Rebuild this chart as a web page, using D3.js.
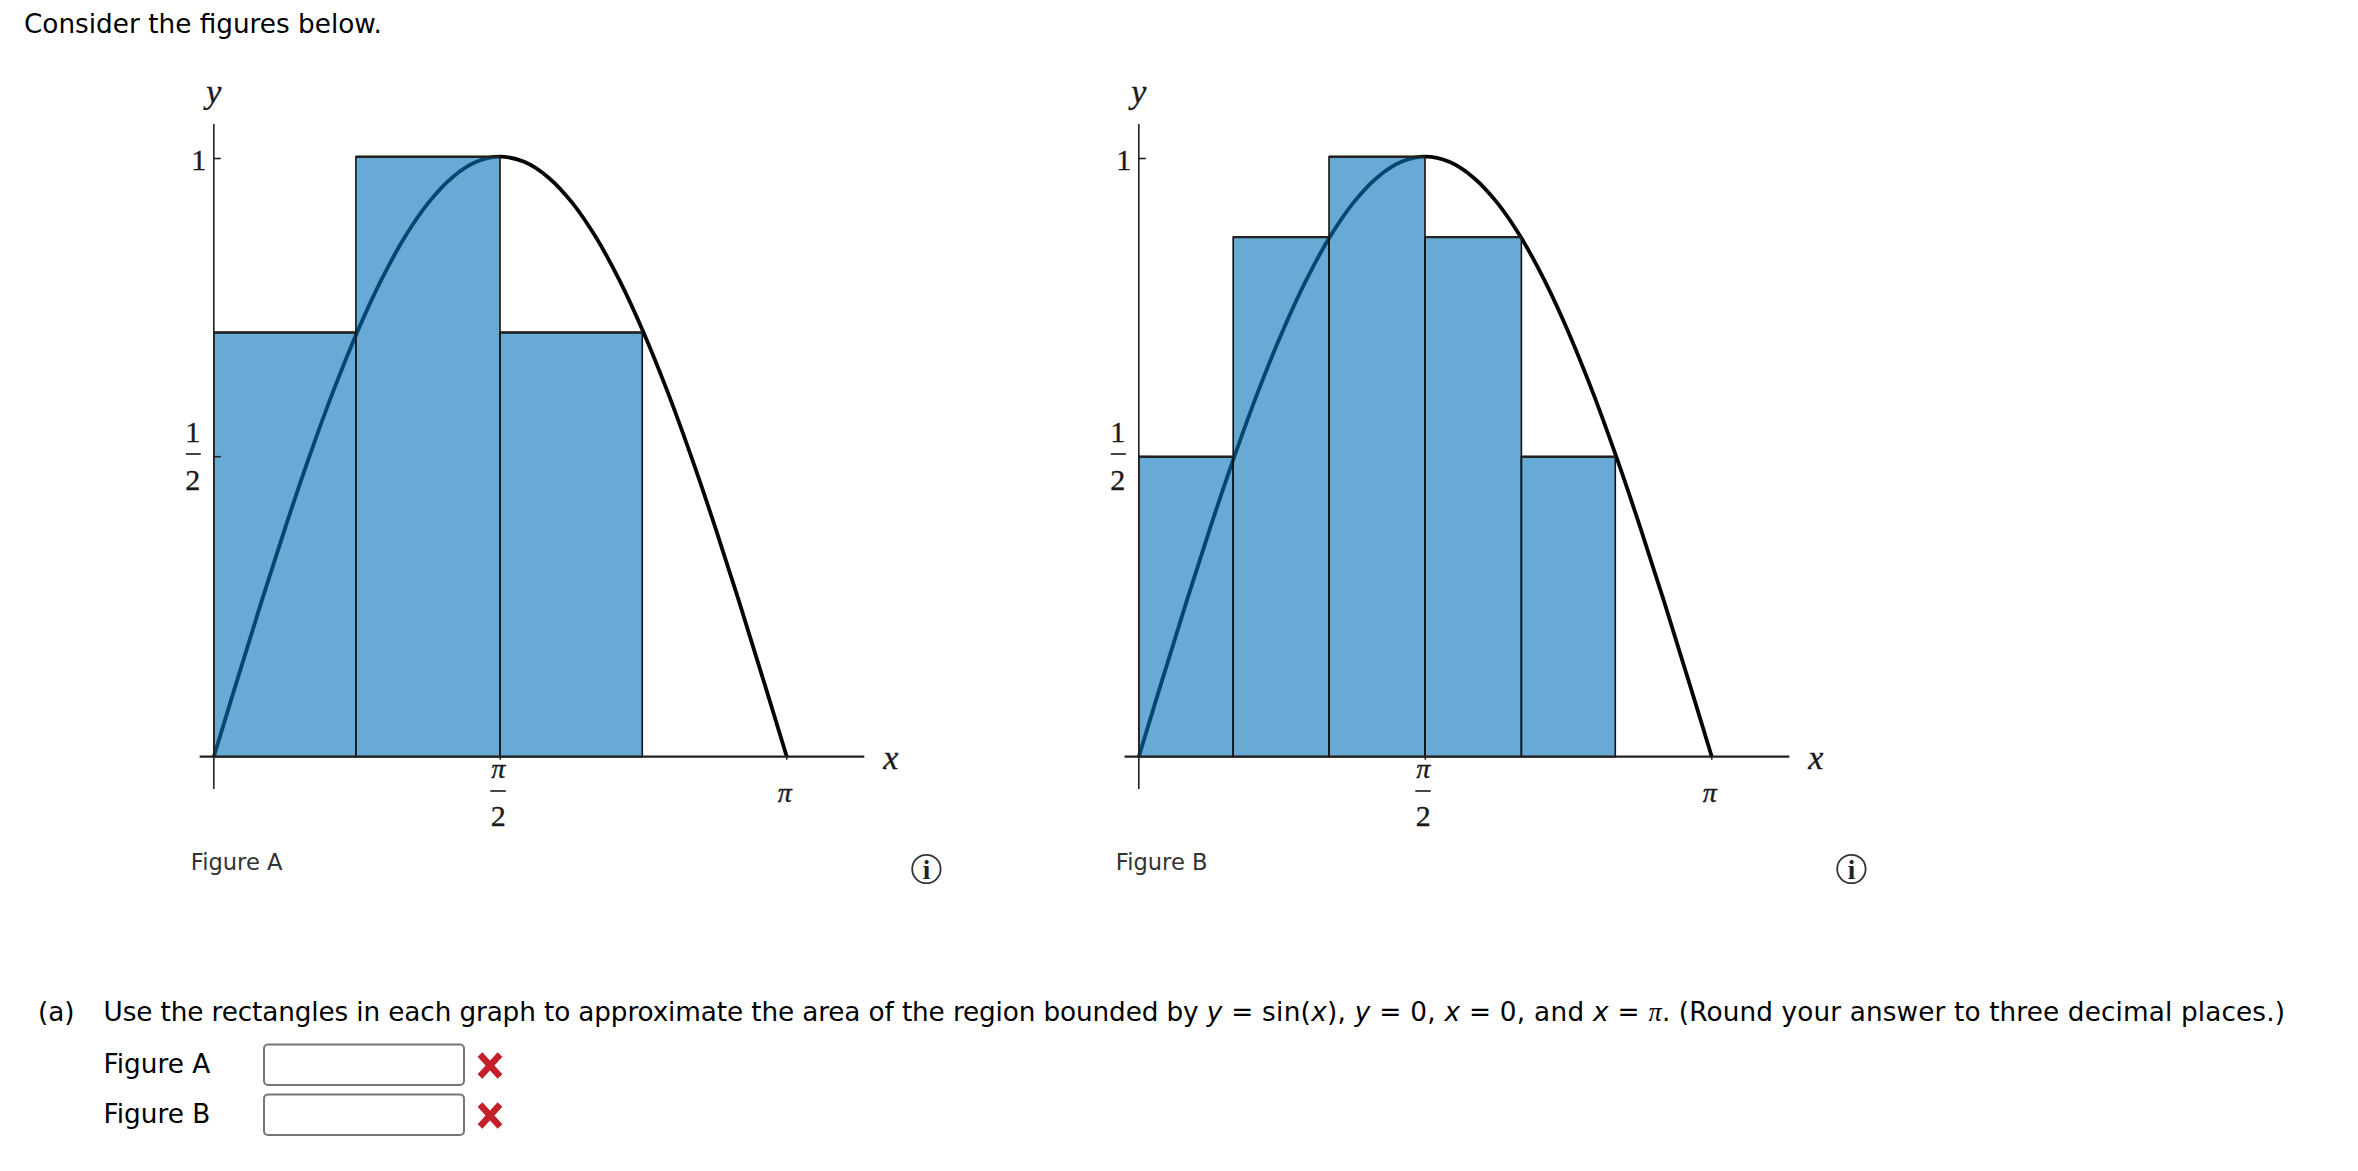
<!DOCTYPE html>
<html><head><meta charset="utf-8">
<script src="https://cdn.jsdelivr.net/npm/d3@7"></script>
<style>
html,body{margin:0;padding:0;background:#fff}
svg{display:block}
.ui{font-family:"DejaVu Sans",Verdana,sans-serif;fill:#000}
.math{font-family:"Liberation Serif",serif;fill:#1a1a1a}
</style></head><body>
<script>
// x positions are given as fractions of pi
const curveFractions=[0,0.0417,0.0833,0.125,0.1667,0.2083,0.25,0.2917,0.3333,0.375,0.4167,0.4583,0.5,0.5417,0.5833,0.625,0.6667,0.7083,0.75,0.7917,0.8333,0.875,0.9167,0.9583,1];
const curveValues=[0,0.1305,0.2588,0.3827,0.5,0.6088,0.7071,0.7934,0.866,0.9239,0.9659,0.9914,1,0.9914,0.9659,0.9239,0.866,0.7934,0.7071,0.6088,0.5,0.3827,0.2588,0.1305,0];
const figureAEdges=[0,0.248,0.4995,0.7478];
const figureAHeights=[0.707,1,0.707];
const figureBEdges=[0,0.1647,0.332,0.4995,0.6677,0.8316];
const figureBHeights=[0.5,0.866,1,0.866,0.5];
const yTickValues=[0.5,0.997];
const xTickValues=[0.5,1];
const figureNames=["Figure A","Figure B"];
const promptText="Consider the figures below.";

const W=2358,H=1171,FS=26.3;
const svg=d3.select("body").append("svg").attr("width",W).attr("height",H).attr("viewBox",`0 0 ${W} ${H}`);
svg.append("rect").attr("width",W).attr("height",H).attr("fill","#fff");
svg.append("text").attr("class","ui").attr("x",24).attr("y",33).attr("font-size",FS).text(promptText);

function fig(ox,name,edges,heights){
  const g=svg.append("g");
  const x=d3.scaleLinear().domain([-0.0248,1.1353]).range([ox-14.2,ox+650.5]);
  const y=d3.scaleLinear().domain([-0.0538,1.0545]).range([789,124]);
  const line=d3.line().x(d=>x(d[0])).y(d=>y(d[1])).curve(d3.curveCatmullRom.alpha(0.5));
  const pts=curveFractions.map((f,i)=>[f,curveValues[i]]);
  // curve below the translucent rectangles, so it darkens through them
  g.append("path").attr("d",line(pts)).attr("fill","none").attr("stroke","#050505").attr("stroke-width",3.8);
  const bars=heights.map((h,i)=>({x0:edges[i],x1:edges[i+1],h}));
  g.selectAll("rect.bar").data(bars).join("rect").attr("class","bar")
    .attr("x",d=>x(d.x0)).attr("width",d=>x(d.x1)-x(d.x0))
    .attr("y",d=>y(d.h)).attr("height",d=>y(0)-y(d.h))
    .attr("fill","rgb(0,113,185)").attr("fill-opacity",0.6)
    .attr("stroke","#111").attr("stroke-width",1.6);
  g.selectAll("line.top").data(bars).join("line").attr("class","top")
    .attr("x1",d=>x(d.x0)).attr("x2",d=>x(d.x1)).attr("y1",d=>y(d.h)).attr("y2",d=>y(d.h))
    .attr("stroke","#222").attr("stroke-width",2.4);

  const ax=d3.axisBottom(x).tickValues(xTickValues).tickFormat("").tickSizeOuter(0).tickSizeInner(3).offset(0);
  const ay=d3.axisLeft(y).tickValues(yTickValues).tickFormat("").tickSizeOuter(0).tickSizeInner(-7).offset(0);
  const gx=g.append("g").attr("transform",`translate(0,${y(0)})`).call(ax);
  gx.select(".domain").attr("stroke","#222").attr("stroke-width",2.2);
  gx.selectAll(".tick line").attr("stroke","#222").attr("stroke-width",1.5);
  const gy=g.append("g").attr("transform",`translate(${x(0)},0)`).call(ay);
  gy.select(".domain").attr("stroke","#222").attr("stroke-width",1.6);
  gy.selectAll(".tick line").attr("stroke","#222").attr("stroke-width",1.6);

  const t=(px,py,s,o={})=>g.append("text").attr("class","math").attr("x",px).attr("y",py)
    .attr("text-anchor",o.a||"middle").attr("font-size",o.fs||30).attr("font-style",o.i?"italic":"normal")
    .attr("stroke","#1a1a1a").attr("stroke-width",0.35).text(s);
  t(x(0),103,"y",{i:1,fs:34});
  t(x(0)+677,769,"x",{i:1,fs:34});
  t(x(0)-15,170,"1");
  t(x(0)-21,442,"1");
  g.append("line").attr("x1",x(0)-28).attr("x2",x(0)-13).attr("y1",454).attr("y2",454).attr("stroke","#333").attr("stroke-width",1.8);
  t(x(0)-21,490,"2");
  t(x(0.5)-2,778,"π",{i:1,fs:28});
  g.append("line").attr("x1",x(0.5)-10).attr("x2",x(0.5)+5.5).attr("y1",791).attr("y2",791).attr("stroke","#333").attr("stroke-width",1.8);
  t(x(0.5)-2,826,"2");
  t(x(1)-2,802,"π",{i:1,fs:28});

  g.append("text").attr("class","ui").attr("x",ox-23).attr("y",869.5).attr("font-size",22.6).style("fill","#333").text(name);
  const cx=ox+712.6, cy=869;
  g.append("circle").attr("cx",cx).attr("cy",cy).attr("r",14.2).attr("fill","#fff").attr("stroke","#333").attr("stroke-width",1.8);
  g.append("text").attr("x",cx).attr("y",cy+10).attr("text-anchor","middle").attr("font-family","Liberation Serif").attr("font-weight","bold").attr("font-size",27).attr("fill","#222").text("i");
}
fig(213.8,figureNames[0],figureAEdges,figureAHeights);
fig(1138.8,figureNames[1],figureBEdges,figureBHeights);

const q=svg.append("text").attr("class","ui").attr("y",1021).attr("font-size",FS);
const seg=[["Use the rectangles in each graph to approximate the area of the region bounded by ",0,-0.13],["y",1,0.27],[" = sin(",0,0.27],["x",1,0.27],["), ",0,0.27],["y",1,0.27],[" = 0, ",0,0.27],["x",1,0.27],[" = 0, and ",0,0.27],["x",1,0.27],[" = ",0,0.27],["π",2,0.27],[". (Round your answer to three decimal places.)",0,0.13]];
q.attr("x",103.6);
seg.forEach(([s,m,ls])=>{const p=q.append("tspan").attr("letter-spacing",ls).text(s);
  if(m==1)p.attr("font-style","italic");
  if(m==2)p.attr("font-family","Liberation Serif").attr("font-style","italic");});
svg.append("text").attr("class","ui").attr("x",38).attr("y",1021).attr("font-size",FS).text("(a)");

[["Figure A",1072.7,1043.5],["Figure B",1122.7,1093.5]].forEach(([s,by,top])=>{
  svg.append("text").attr("class","ui").attr("x",103.6).attr("y",by).attr("font-size",FS).text(s);
  svg.append("rect").attr("x",264).attr("y",top+1).attr("width",200).attr("height",40.5).attr("rx",4).attr("fill","#fff").attr("stroke","#767676").attr("stroke-width",2);
  const mx=490,my=top+22;
  svg.append("path").attr("d",`M${mx-10},${my-11}L${mx+10},${my+11}M${mx+10},${my-11}L${mx-10},${my+11}`).attr("stroke","#c4202a").attr("stroke-width",6.5).attr("fill","none");
});
</script></body></html>
